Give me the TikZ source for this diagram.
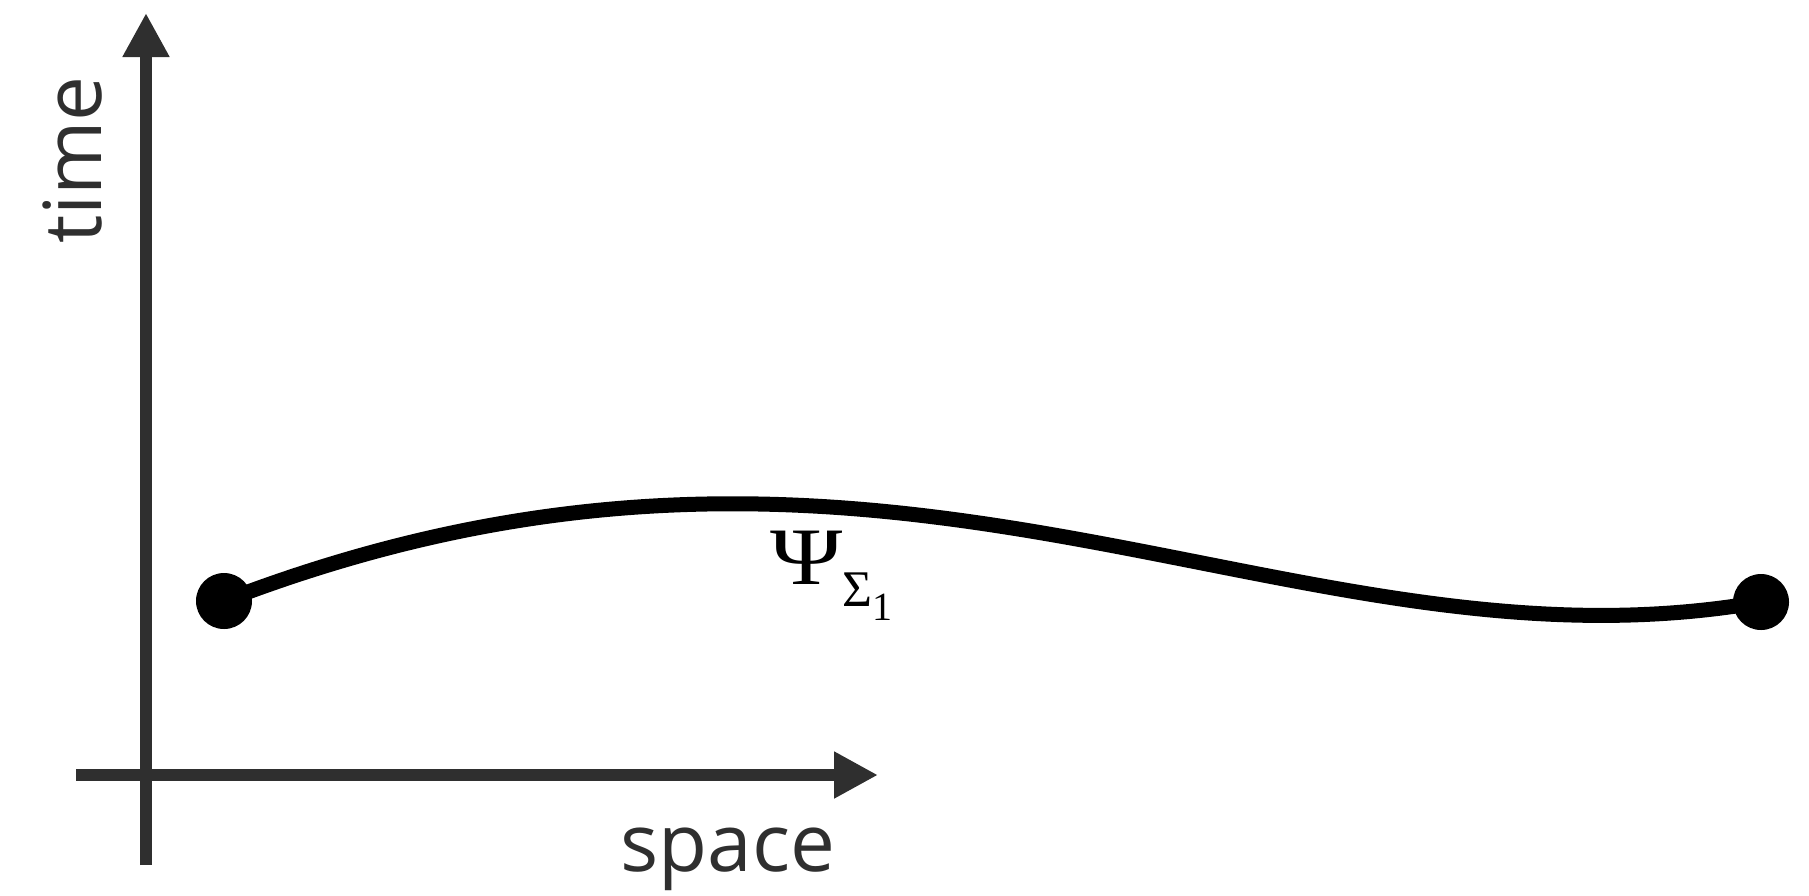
\documentclass[tikz,border=0pt]{standalone}
\usepackage{fontspec}
\newfontfamily\labelfont{Open Sans}
\newfontfamily\psifont{Liberation Serif}
\usetikzlibrary{arrows.meta}
\definecolor{axisgray}{HTML}{2F2F2F}
\tikzset{
  axis/.style={line width=5.8pt, axisgray, -{Triangle[length=22pt,width=22pt]}},
  axislabel/.style={font=\labelfont\fontsize{40}{48}\selectfont, text=axisgray, inner sep=0pt},
  event/.style={circle, fill=black, inner sep=0pt, minimum size=28pt},
  worldline/.style={line width=7.5pt, black},
}

\begin{document}
\begin{tikzpicture}[x=0.5pt, y=-0.5pt]
  \useasboundingbox (0,0) rectangle (1809,895);
  % axes
  \coordinate (tbot) at (146,865);
  \coordinate (ttop) at (146,13);
  \coordinate (sleft) at (76,775);
  \coordinate (sright) at (878,775);
  \draw[axis] (tbot) -- (ttop);
  \draw[axis] (sleft) -- (sright);
  \node[axislabel, rotate=90, anchor=base] (timelabel) at (101.5,160) {time};
  \node[axislabel, anchor=base] (spacelabel) at (728,871) {space};
  % world line between the two events
  \coordinate (start) at (224,601);
  \coordinate (stop) at (1761,602);
  \draw[worldline] (start) .. controls (889,345) and (1285,685) .. (stop);
  \node[event] (startdot) at (start) {};
  \node[event] (stopdot) at (stop) {};
  \node[inner sep=0pt, anchor=base west, font=\psifont] (psi) at (770,584.3)
    {\fontsize{40.8}{48}\selectfont \scalebox{1.2}[1]{Ψ}\raisebox{-11.2pt}{\fontsize{25.7}{30}\selectfont Σ}\raisebox{-17.85pt}{\fontsize{20}{24}\selectfont 1}};
\end{tikzpicture}
\end{document}
